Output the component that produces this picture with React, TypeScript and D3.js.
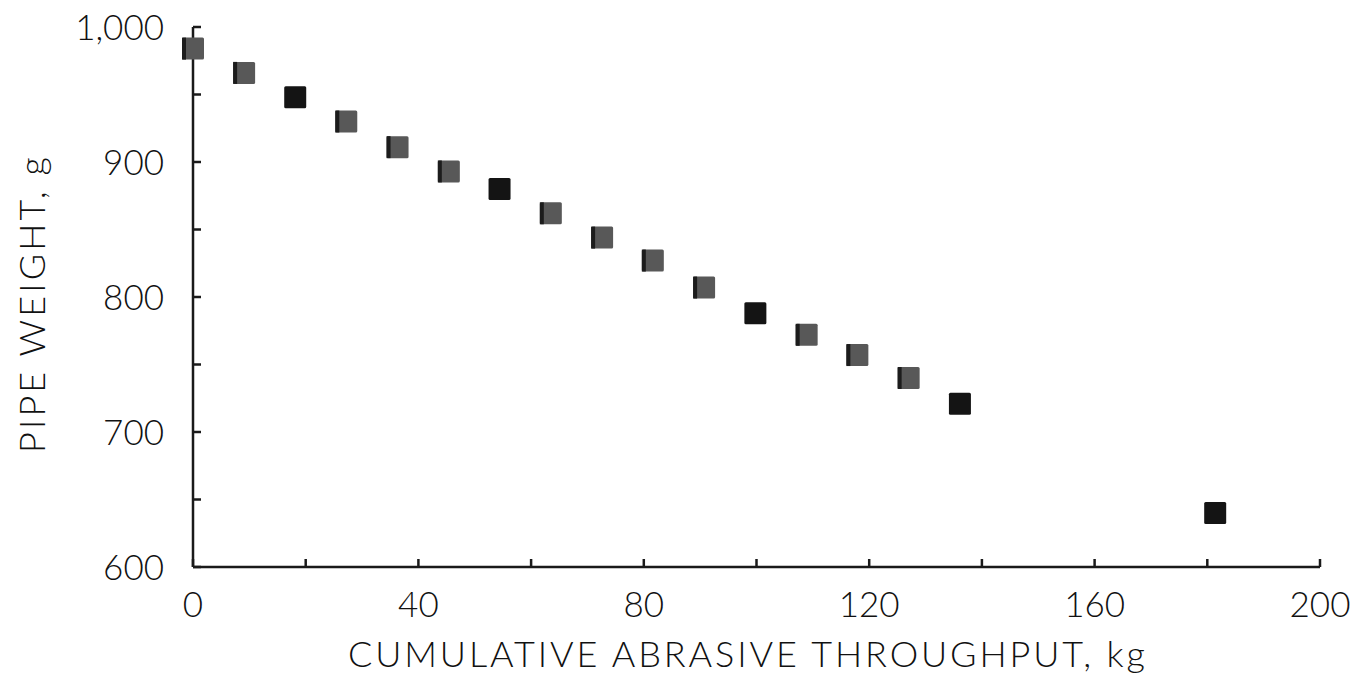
import React from "react";
import * as d3 from "d3";

const throughputKg = [0, 9.07, 18.14, 27.2, 36.3, 45.4, 54.4, 63.5, 72.6, 81.6, 90.7, 99.8, 108.9, 117.9, 127.0, 136.1, 181.4];
const pipeWeightG = [984, 966, 948, 930, 911, 893, 880, 862, 844, 827, 807, 788, 772, 757, 740, 721, 640];
const darkPoints = [18.14, 54.4, 99.8, 136.1, 181.4];
const xTickLabels = [0, 40, 80, 120, 160, 200];
const xMinorTicks = [20, 60, 100, 140, 180];
const yTickLabels = [600, 700, 800, 900, 1000];
const yMinorTicks = [650, 750, 850, 950];

const W = 1360;
const H = 676;
const FONT = "Lato, 'Liberation Sans', 'DejaVu Sans', sans-serif";

export default function App() {
  const x = d3.scaleLinear().domain([0, 200]).range([193, 1320]);
  const y = d3.scaleLinear().domain([600, 1000]).range([567, 27]);
  const fmt = d3.format(",");
  const s = 22;
  const tk = 8;
  const axisColor = "#1a1a1a";

  return (
    <svg width={W} height={H} style={{ position: "absolute", left: 0, top: 0, background: "#fff" }}>
      {/* axes */}
      <line x1={x(0)} x2={x(200)} y1={y(600)} y2={y(600)} stroke={axisColor} strokeWidth={2.5} />
      <line x1={x(0)} x2={x(0)} y1={y(600)} y2={y(1000)} stroke={axisColor} strokeWidth={2.5} />
      {xTickLabels.concat(xMinorTicks).map((v) => (
        <line key={"xt" + v} x1={x(v)} x2={x(v)} y1={y(600)} y2={y(600) - tk} stroke={axisColor} strokeWidth={2.5} />
      ))}
      {yTickLabels.concat(yMinorTicks).map((v) => (
        <line key={"yt" + v} x1={x(0)} x2={x(0) + tk} y1={y(v)} y2={y(v)} stroke={axisColor} strokeWidth={2.5} />
      ))}
      {xTickLabels.map((v) => (
        <text key={"xl" + v} x={x(v)} y={617} textAnchor="middle" fontFamily={FONT} fontWeight={300} fontSize={35} fill="#111">
          {v}
        </text>
      ))}
      {yTickLabels.map((v) => (
        <text key={"yl" + v} x={164} y={y(v) + 13} textAnchor="end" fontFamily={FONT} fontWeight={300} fontSize={35} fill="#111">
          {fmt(v)}
        </text>
      ))}
      <text x={x(100) - 10} y={667} textAnchor="middle" fontFamily={FONT} fontWeight={300} fontSize={36} fill="#111"
        textLength={797} lengthAdjust="spacing">
        CUMULATIVE ABRASIVE THROUGHPUT, kg
      </text>
      <text transform={`translate(45, 305) rotate(-90)`} textAnchor="middle" fontFamily={FONT} fontWeight={300} fontSize={36} fill="#111"
        textLength={296} lengthAdjust="spacing">
        PIPE WEIGHT, g
      </text>
      {/* points */}
      {throughputKg.map((v, i) => {
        const dark = darkPoints.includes(v);
        const cx = x(v);
        const cy = y(pipeWeightG[i]);
        return (
          <g key={"p" + i}>
            <rect x={cx - s / 2} y={cy - s / 2} width={s} height={s} rx={1.5} fill={dark ? "#141414" : "#585858"} />
            {!dark && <rect x={cx - s / 2} y={cy - s / 2} width={4} height={s} fill="#1c1c1c" />}
          </g>
        );
      })}
    </svg>
  );
}
